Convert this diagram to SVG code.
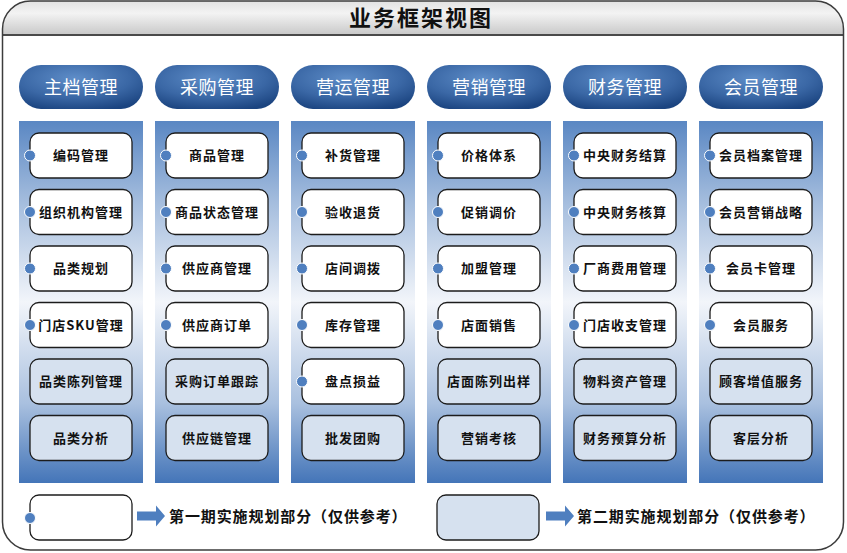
<svg xmlns="http://www.w3.org/2000/svg" width="847" height="553" viewBox="0 0 847 553">
<defs>
<linearGradient id="gBand" x1="0" y1="0" x2="0" y2="1">
<stop offset="0" stop-color="#e2e2e2"/>
<stop offset="0.35" stop-color="#f3f3f3"/>
<stop offset="1" stop-color="#c6c6c6"/>
</linearGradient>
<radialGradient id="gPill" cx="0.45" cy="0.3" r="0.75">
<stop offset="0" stop-color="#5e8dc8"/>
<stop offset="0.6" stop-color="#3a67a5"/>
<stop offset="1" stop-color="#1b4480"/>
</radialGradient>
<linearGradient id="gPanel" x1="0" y1="0" x2="0" y2="1">
<stop offset="0" stop-color="#5a87c3"/>
<stop offset="0.22" stop-color="#a3bcdd"/>
<stop offset="0.5" stop-color="#f2f5fa"/>
<stop offset="0.78" stop-color="#a9c0df"/>
<stop offset="1" stop-color="#4475b8"/>
</linearGradient>
<clipPath id="frameClip"><rect x="2.5" y="1" width="841" height="549" rx="28"/></clipPath>
</defs>
<style>
.panel{fill:url(#gPanel)}
.pill{fill:url(#gPill)}
.pilltxt{font-family:"Noto Sans CJK SC","Noto Sans",sans-serif;font-size:18px;fill:#ffffff;text-anchor:middle;dominant-baseline:central;letter-spacing:0.5px}
.box1{fill:#ffffff;stroke:#1c1c1c;stroke-width:1.3}
.box2{fill:#d6e1ef;stroke:#1c1c1c;stroke-width:1.3}
.dot{fill:#4f7fbf;stroke:#ffffff;stroke-width:1}
.txt{font-family:"Noto Sans CJK SC","Noto Sans",sans-serif;font-size:13px;font-weight:bold;fill:#111;text-anchor:middle;dominant-baseline:central;letter-spacing:1px}
.leg{font-family:"Noto Sans CJK SC","Noto Sans",sans-serif;font-size:15px;font-weight:bold;fill:#111;dominant-baseline:central;letter-spacing:0.9px}
.arrow{fill:#4f7fbf}
</style>
<rect width="847" height="553" fill="#ffffff"/>
<g id="frame">
<rect x="2.5" y="1" width="841" height="35" fill="url(#gBand)" clip-path="url(#frameClip)"/>
<line x1="2.5" y1="35" x2="843.5" y2="35" stroke="#4a4a4a" stroke-width="1.8"/>
<rect x="2.5" y="1" width="841" height="549" rx="28" fill="none" stroke="#3c3c3c" stroke-width="1.5"/>
<text x="421" y="16" font-family="'Noto Sans CJK SC','Noto Sans',sans-serif" font-size="22" font-weight="bold" fill="#111" text-anchor="middle" dominant-baseline="central" letter-spacing="2">业务框架视图</text>
</g>

<g id="col-zhudang">
<rect class="pill" x="19" y="65" width="124" height="44" rx="22"/>
<text class="pilltxt" x="81" y="86">主档管理</text>
<rect class="panel" x="19" y="121" width="124" height="362"/>
<g id="n-bianma"><rect class="box1" x="30" y="133" width="102" height="45" rx="9"/><circle class="dot" cx="30" cy="155.5" r="5.5"/><text class="txt" x="81" y="154.5">编码管理</text></g>
<g id="n-zuzhi"><rect class="box1" x="30" y="189.5" width="102" height="45" rx="9"/><circle class="dot" cx="30" cy="212" r="5.5"/><text class="txt" x="81" y="211" letter-spacing="0">组织机构管理</text></g>
<g id="n-pinlei"><rect class="box1" x="30" y="246" width="102" height="45" rx="9"/><circle class="dot" cx="30" cy="268.5" r="5.5"/><text class="txt" x="81" y="267.5">品类规划</text></g>
<g id="n-sku"><rect class="box1" x="30" y="302.5" width="102" height="45" rx="9"/><circle class="dot" cx="30" cy="325" r="5.5"/><text class="txt" x="81" y="324" letter-spacing="0">门店SKU管理</text></g>
<g id="n-chenlie"><rect class="box2" x="30" y="359" width="102" height="45" rx="9"/><text class="txt" x="81" y="380.5">品类陈列管理</text></g>
<g id="n-fenxi"><rect class="box2" x="30" y="415.5" width="102" height="45" rx="9"/><text class="txt" x="81" y="437">品类分析</text></g>
</g>

<g id="col-caigou">
<rect class="pill" x="155" y="65" width="124" height="44" rx="22"/>
<text class="pilltxt" x="217" y="86">采购管理</text>
<rect class="panel" x="155" y="121" width="124" height="362"/>
<g id="n-shangpin"><rect class="box1" x="166" y="133" width="102" height="45" rx="9"/><circle class="dot" cx="166" cy="155.5" r="5.5"/><text class="txt" x="217" y="154.5">商品管理</text></g>
<g id="n-zhuangtai"><rect class="box1" x="166" y="189.5" width="102" height="45" rx="9"/><circle class="dot" cx="166" cy="212" r="5.5"/><text class="txt" x="217" y="211">商品状态管理</text></g>
<g id="n-gys"><rect class="box1" x="166" y="246" width="102" height="45" rx="9"/><circle class="dot" cx="166" cy="268.5" r="5.5"/><text class="txt" x="217" y="267.5">供应商管理</text></g>
<g id="n-gysdd"><rect class="box1" x="166" y="302.5" width="102" height="45" rx="9"/><circle class="dot" cx="166" cy="325" r="5.5"/><text class="txt" x="217" y="324">供应商订单</text></g>
<g id="n-genzong"><rect class="box2" x="166" y="359" width="102" height="45" rx="9"/><text class="txt" x="217" y="380.5">采购订单跟踪</text></g>
<g id="n-gyl"><rect class="box2" x="166" y="415.5" width="102" height="45" rx="9"/><text class="txt" x="217" y="437">供应链管理</text></g>
</g>

<g id="col-yingyun">
<rect class="pill" x="291" y="65" width="124" height="44" rx="22"/>
<text class="pilltxt" x="353" y="86">营运管理</text>
<rect class="panel" x="291" y="121" width="124" height="362"/>
<g id="n-buhuo"><rect class="box1" x="302" y="133" width="102" height="45" rx="9"/><circle class="dot" cx="302" cy="155.5" r="5.5"/><text class="txt" x="353" y="154.5">补货管理</text></g>
<g id="n-yanshou"><rect class="box1" x="302" y="189.5" width="102" height="45" rx="9"/><circle class="dot" cx="302" cy="212" r="5.5"/><text class="txt" x="353" y="211">验收退货</text></g>
<g id="n-diaobo"><rect class="box1" x="302" y="246" width="102" height="45" rx="9"/><circle class="dot" cx="302" cy="268.5" r="5.5"/><text class="txt" x="353" y="267.5">店间调拨</text></g>
<g id="n-kucun"><rect class="box1" x="302" y="302.5" width="102" height="45" rx="9"/><circle class="dot" cx="302" cy="325" r="5.5"/><text class="txt" x="353" y="324">库存管理</text></g>
<g id="n-pandian"><rect class="box1" x="302" y="359" width="102" height="45" rx="9"/><circle class="dot" cx="302" cy="381.5" r="5.5"/><text class="txt" x="353" y="380.5">盘点损益</text></g>
<g id="n-pifa"><rect class="box2" x="302" y="415.5" width="102" height="45" rx="9"/><text class="txt" x="353" y="437">批发团购</text></g>
</g>

<g id="col-yingxiao">
<rect class="pill" x="427" y="65" width="124" height="44" rx="22"/>
<text class="pilltxt" x="489" y="86">营销管理</text>
<rect class="panel" x="427" y="121" width="124" height="362"/>
<g id="n-jiage"><rect class="box1" x="438" y="133" width="102" height="45" rx="9"/><circle class="dot" cx="438" cy="155.5" r="5.5"/><text class="txt" x="489" y="154.5">价格体系</text></g>
<g id="n-cuxiao"><rect class="box1" x="438" y="189.5" width="102" height="45" rx="9"/><circle class="dot" cx="438" cy="212" r="5.5"/><text class="txt" x="489" y="211">促销调价</text></g>
<g id="n-jiameng"><rect class="box1" x="438" y="246" width="102" height="45" rx="9"/><circle class="dot" cx="438" cy="268.5" r="5.5"/><text class="txt" x="489" y="267.5">加盟管理</text></g>
<g id="n-xiaoshou"><rect class="box1" x="438" y="302.5" width="102" height="45" rx="9"/><circle class="dot" cx="438" cy="325" r="5.5"/><text class="txt" x="489" y="324">店面销售</text></g>
<g id="n-chuyang"><rect class="box2" x="438" y="359" width="102" height="45" rx="9"/><text class="txt" x="489" y="380.5">店面陈列出样</text></g>
<g id="n-kaohe"><rect class="box2" x="438" y="415.5" width="102" height="45" rx="9"/><text class="txt" x="489" y="437">营销考核</text></g>
</g>

<g id="col-caiwu">
<rect class="pill" x="563" y="65" width="124" height="44" rx="22"/>
<text class="pilltxt" x="625" y="86">财务管理</text>
<rect class="panel" x="563" y="121" width="124" height="362"/>
<g id="n-jiesuan"><rect class="box1" x="574" y="133" width="102" height="45" rx="9"/><circle class="dot" cx="574" cy="155.5" r="5.5"/><text class="txt" x="625" y="154.5">中央财务结算</text></g>
<g id="n-hesuan"><rect class="box1" x="574" y="189.5" width="102" height="45" rx="9"/><circle class="dot" cx="574" cy="212" r="5.5"/><text class="txt" x="625" y="211">中央财务核算</text></g>
<g id="n-feiyong"><rect class="box1" x="574" y="246" width="102" height="45" rx="9"/><circle class="dot" cx="574" cy="268.5" r="5.5"/><text class="txt" x="625" y="267.5">厂商费用管理</text></g>
<g id="n-shouzhi"><rect class="box1" x="574" y="302.5" width="102" height="45" rx="9"/><circle class="dot" cx="574" cy="325" r="5.5"/><text class="txt" x="625" y="324">门店收支管理</text></g>
<g id="n-wuliao"><rect class="box2" x="574" y="359" width="102" height="45" rx="9"/><text class="txt" x="625" y="380.5">物料资产管理</text></g>
<g id="n-yusuan"><rect class="box2" x="574" y="415.5" width="102" height="45" rx="9"/><text class="txt" x="625" y="437">财务预算分析</text></g>
</g>

<g id="col-huiyuan">
<rect class="pill" x="699" y="65" width="124" height="44" rx="22"/>
<text class="pilltxt" x="761" y="86">会员管理</text>
<rect class="panel" x="699" y="121" width="124" height="362"/>
<g id="n-dangan"><rect class="box1" x="710" y="133" width="102" height="45" rx="9"/><circle class="dot" cx="710" cy="155.5" r="5.5"/><text class="txt" x="761" y="154.5">会员档案管理</text></g>
<g id="n-zhanlue"><rect class="box1" x="710" y="189.5" width="102" height="45" rx="9"/><circle class="dot" cx="710" cy="212" r="5.5"/><text class="txt" x="761" y="211">会员营销战略</text></g>
<g id="n-ka"><rect class="box1" x="710" y="246" width="102" height="45" rx="9"/><circle class="dot" cx="710" cy="268.5" r="5.5"/><text class="txt" x="761" y="267.5">会员卡管理</text></g>
<g id="n-fuwu"><rect class="box1" x="710" y="302.5" width="102" height="45" rx="9"/><circle class="dot" cx="710" cy="325" r="5.5"/><text class="txt" x="761" y="324">会员服务</text></g>
<g id="n-zengzhi"><rect class="box2" x="710" y="359" width="102" height="45" rx="9"/><text class="txt" x="761" y="380.5">顾客增值服务</text></g>
<g id="n-keceng"><rect class="box2" x="710" y="415.5" width="102" height="45" rx="9"/><text class="txt" x="761" y="437">客层分析</text></g>
</g>

<g id="legend-phase1">
<rect class="box1" x="30" y="495" width="102" height="45" rx="9"/>
<circle class="dot" cx="30" cy="518" r="5.5"/>
<text class="leg" x="169" y="515">第一期实施规划部分（仅供参考）</text>
</g>
<g id="legend-phase2">
<rect class="box2" x="437" y="495" width="102" height="45" rx="9"/>
<text class="leg" x="577" y="515">第二期实施规划部分（仅供参考）</text>
</g>
<g id="connectors">
<polygon class="arrow" points="137,511.5 156,511.5 156,505.5 165,516 156,526.5 156,520.5 137,520.5"/>
<polygon class="arrow" points="546,511.5 565,511.5 565,505.5 574,516 565,526.5 565,520.5 546,520.5"/>
</g>
</svg>
